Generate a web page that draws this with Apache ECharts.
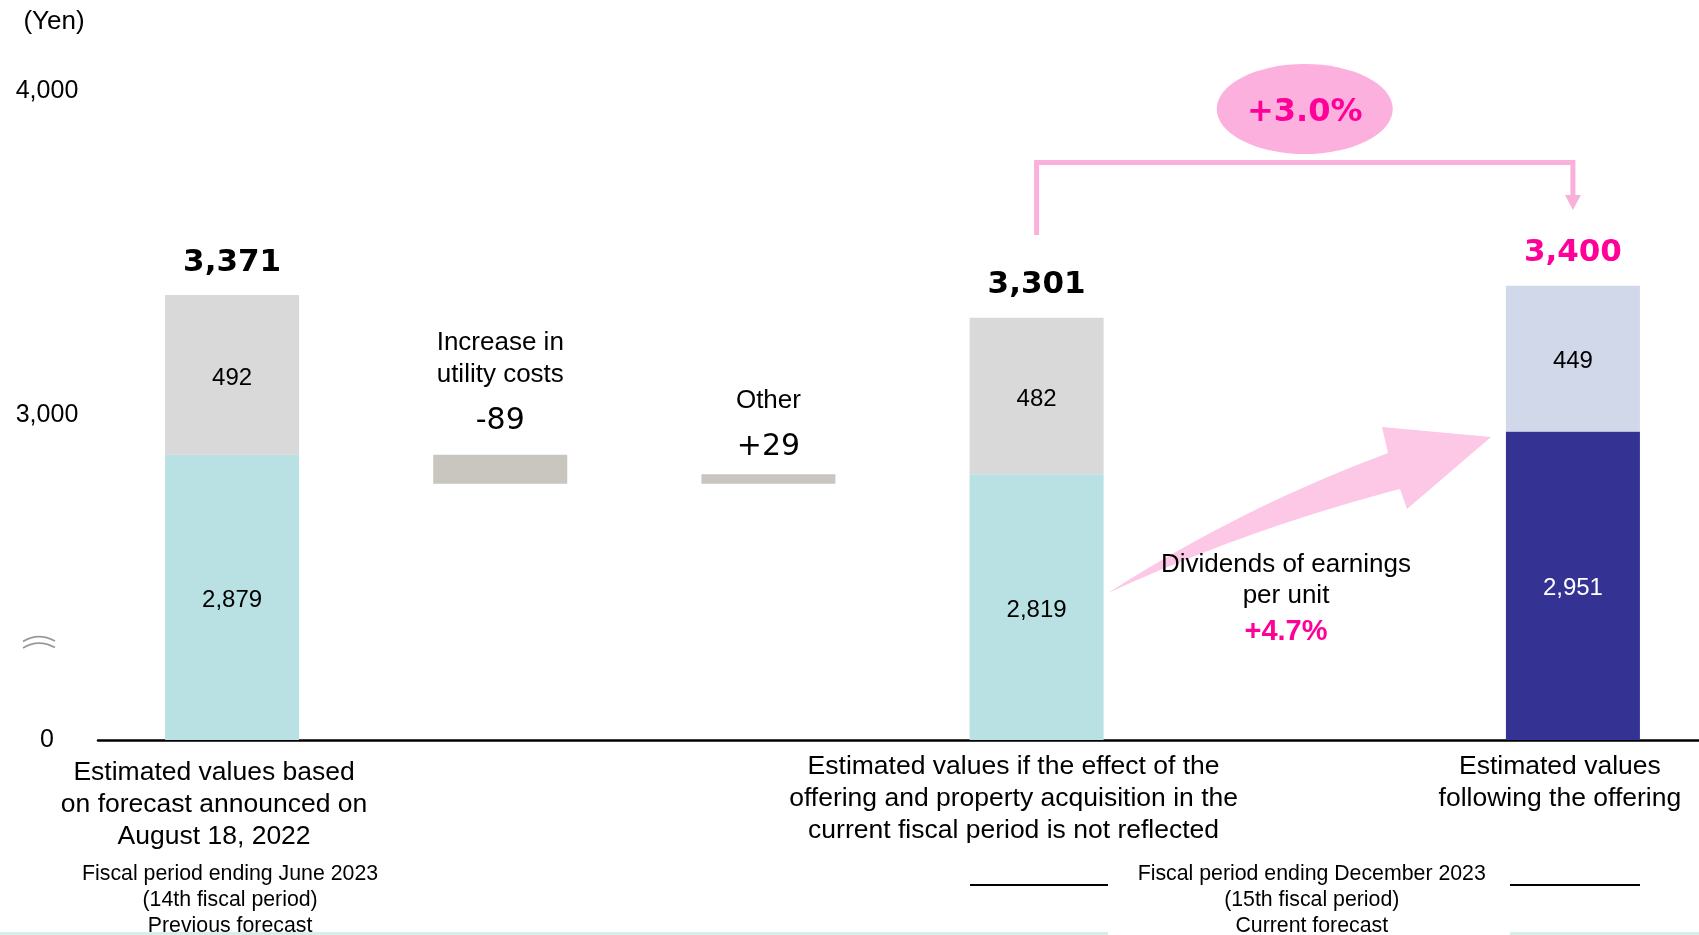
<!DOCTYPE html>
<html><head><meta charset="utf-8">
<script src="https://cdn.jsdelivr.net/npm/echarts@6/dist/echarts.min.js"></script>
<style>html,body{margin:0;padding:0;background:#fff}#c{width:1699px;height:935px}</style>
</head><body><div id="c"></div>
<script>
// ---- data ----
const categories = ['Previous forecast', 'Increase in utility costs', 'Other', 'Not reflected', 'Gap', 'Following the offering'];
const axisTexts = [
  'Estimated values based\non forecast announced on\nAugust 18, 2022',
  '', '',
  'Estimated values if the effect of the\noffering and property acquisition in the\ncurrent fiscal period is not reflected',
  '',
  'Estimated values\nfollowing the offering'
];
const lowerValues = [2879, null, null, 2819, null, 2951];
const upperValues = [492, null, null, 482, null, 449];
const changes = [null, -89, 29, null, null, null];
const changeNames = [[], ['Increase in', 'utility costs'], ['Other'], [], [], []];
const yTicks = [2000, 3000, 4000];          // axis shown with a break: bottom tick stands for 0
const yTickLabels = ['0', '3,000', '4,000'];
const totalColors = ['#000000', null, null, '#000000', null, '#ff0099'];

// ---- derived ----
const totals = lowerValues.map((v, i) => v == null ? null : v + upperValues[i]);
let running = lowerValues[0];
const floatBase = changes.map(c => {
  if (c == null) return null;
  const b = c < 0 ? running + c : running;
  running += c;
  return b;
});
const floatHeight = changes.map(c => c == null ? null : Math.abs(c));
const fmt = v => v.toLocaleString('en-US');

const ARIAL = 'Liberation Sans';
const VERD = 'DejaVu Sans';

const lowerColors = ['#b9e0e2', null, null, '#b9e0e2', null, '#343394'];
const upperColors = ['#d9d9d9', null, null, '#d9d9d9', null, '#d1d8ea'];
const lowerLabelColors = ['#000', null, null, '#000', null, '#fff'];
const axisPad = [[6, 36, 0, 0], [0,0,0,0], [0,0,0,0], [0, 46, 0, 0], [0,0,0,0], [0, 26, 0, 0]];

const chart = echarts.init(document.getElementById('c'), null, {renderer: 'canvas'});
const option = {
  animation: false,
  backgroundColor: '#fff',
  grid: {left: 98, width: 1609, top: 91, bottom: 195, containLabel: false, outerBoundsMode: 'none'},
  xAxis: {
    type: 'category',
    data: categories.map((c, i) => ({value: c, textStyle: {padding: axisPad[i]}})),
    axisLine: {lineStyle: {color: '#000', width: 2.5}},
    axisTick: {show: false},
    axisLabel: {
      interval: 0, margin: 11, fontSize: 26.5, lineHeight: 32, color: '#000', fontFamily: ARIAL,
      hideOverlap: false,
      formatter: (v, i) => axisTexts[i]
    }
  },
  yAxis: {
    type: 'value', min: 2000, max: 4000, interval: 1000,
    splitLine: {show: false}, axisLine: {show: false}, axisTick: {show: false},
    axisLabel: {
      fontSize: 25, color: '#000', fontFamily: ARIAL, align: 'center', margin: 51,
      formatter: v => yTickLabels[yTicks.indexOf(v)]
    }
  },
  series: [
    {
      type: 'bar', stack: 'a', barWidth: 134,
      data: lowerValues.map((v, i) => v == null ? null : {value: v, itemStyle: {color: lowerColors[i]}, label: {color: lowerLabelColors[i]}}),
      label: {show: true, position: 'inside', offset: [0, 3], fontSize: 24, fontFamily: ARIAL, formatter: p => fmt(p.value)}
    },
    {
      type: 'bar', stack: 'a', barWidth: 134,
      data: upperValues.map((v, i) => v == null ? null : {value: v, itemStyle: {color: upperColors[i]}}),
      label: {show: true, position: 'inside', offset: [0, 3], fontSize: 24, fontFamily: ARIAL, color: '#000', formatter: p => fmt(p.value)}
    },
    {
      type: 'bar', stack: 'a', barWidth: 134,
      itemStyle: {color: 'rgba(0,0,0,0)'},
      data: floatBase
    },
    {
      type: 'bar', stack: 'a', barWidth: 134,
      itemStyle: {color: '#c9c6bf'},
      data: floatHeight.map((h, i) => h == null ? null : {value: h, label: {distance: changes[i] < 0 ? 4 : -3}}),
      label: {
        show: true, position: 'top',
        formatter: p => {
          const c = changes[p.dataIndex];
          const names = changeNames[p.dataIndex].map(n => '{n|' + n + '}').join('\n');
          return names + '\n{v|' + (c < 0 ? '-' : '+') + Math.abs(c) + '}';
        },
        rich: {
          n: {fontSize: 26, lineHeight: 32, fontFamily: ARIAL, color: '#000'},
          v: {fontSize: 30, lineHeight: 60, fontFamily: VERD, color: '#000'}
        }
      }
    },
    {
      type: 'scatter', symbolSize: 0,
      itemStyle: {opacity: 1},
      data: totals.map((t, i) => t == null ? null : {value: [i, t], label: {color: totalColors[i]}}).filter(d => d),
      label: {show: true, position: 'top', distance: 17, fontSize: 31, fontWeight: 'bold', fontFamily: VERD,
        color: '#000', textBorderWidth: 0, formatter: p => fmt(p.value[1])}
    }
  ]
};
chart.setOption(option);

const px = (i, v) => chart.convertToPixel({gridIndex: 0}, [i, v]);
const x1 = px(0, 3000)[0], x4 = px(3, 3000)[0], x5 = px(4, 3000)[0], x6 = px(5, 3000)[0];
const pinkLine = '#fbb0dc';

// curved arrow outline (decoration)
function quad(p0, c, p1, n) {
  const pts = [];
  for (let k = 0; k <= n; k++) {
    const t = k / n, u = 1 - t;
    pts.push([u*u*p0[0] + 2*u*t*c[0] + t*t*p1[0], u*u*p0[1] + 2*u*t*c[1] + t*t*p1[1]]);
  }
  return pts;
}
const tail = [1108, 593];
const upper = quad(tail, [1240, 508], [1388, 453], 24);
const lower = quad([1400, 489], [1250, 528], tail, 24);
const arrowPts = upper.concat([[1382, 427], [1491, 437], [1407, 509]]).concat(lower);

chart.setOption({
  graphic: [
    {type: 'line', shape: {x1: 0, y1: 933.5, x2: 1108, y2: 933.5}, style: {stroke: '#d7efe9', lineWidth: 3}},
    {type: 'line', shape: {x1: 1510, y1: 933.5, x2: 1699, y2: 933.5}, style: {stroke: '#d7efe9', lineWidth: 3}},
    {type: 'text', x: 54, y: 22, style: {text: '(Yen)', fontSize: 26, fontFamily: ARIAL, fill: '#000', align: 'center', verticalAlign: 'middle'}},
    // axis break mark
    {type: 'bezierCurve', shape: {x1: 23, y1: 641.5, cpx1: 38, cpy1: 632, x2: 55, y2: 641}, style: {stroke: '#999', lineWidth: 1.5, fill: null}},
    {type: 'bezierCurve', shape: {x1: 23, y1: 648, cpx1: 38, cpy1: 638.5, x2: 55, y2: 647.5}, style: {stroke: '#999', lineWidth: 1.5, fill: null}},
    // bracket
    {type: 'polyline', shape: {points: [[x4, 235], [x4, 162.5], [x6, 162.5], [x6, 197]]}, style: {stroke: pinkLine, lineWidth: 5, fill: null}},
    {type: 'polygon', shape: {points: [[x6 - 8, 195], [x6 + 8, 195], [x6, 210]]}, style: {fill: pinkLine}},
    {type: 'circle', x: x5, y: 109, scaleX: 88 / 45, scaleY: 1, shape: {cx: 0, cy: 0, r: 45}, style: {fill: '#fcb0dd'}},
    {type: 'text', x: x5, y: 113, style: {text: '+3.0%', fontSize: 32, fontWeight: 'bold', fontFamily: VERD, fill: '#ff0099', align: 'center', verticalAlign: 'middle'}},
    // big arrow
    {type: 'polygon', shape: {points: arrowPts}, style: {fill: '#fcc8e6'}},
    {type: 'text', x: 1286, y: 580, style: {text: 'Dividends of earnings\nper unit', fontSize: 26, lineHeight: 31, fontFamily: ARIAL, fill: '#000', align: 'center', verticalAlign: 'middle'}},
    {type: 'text', x: 1286, y: 632, style: {text: '+4.7%', fontSize: 29, fontWeight: 'bold', fontFamily: ARIAL, fill: '#ff0099', align: 'center', verticalAlign: 'middle'}},
    // fiscal period captions
    {type: 'text', x: x1 - 2, y: 900, style: {text: 'Fiscal period ending June 2023\n(14th fiscal period)\nPrevious forecast', fontSize: 21.3, lineHeight: 26, fontFamily: ARIAL, fill: '#000', align: 'center', verticalAlign: 'middle'}},
    {type: 'text', x: x5 + 7, y: 900, style: {text: 'Fiscal period ending December 2023\n(15th fiscal period)\nCurrent forecast', fontSize: 21.3, lineHeight: 26, fontFamily: ARIAL, fill: '#000', align: 'center', verticalAlign: 'middle'}},
    {type: 'line', shape: {x1: 970, y1: 885, x2: 1108, y2: 885}, style: {stroke: '#000', lineWidth: 2}},
    {type: 'line', shape: {x1: 1510, y1: 885, x2: 1640, y2: 885}, style: {stroke: '#000', lineWidth: 2}}
  ]
});
</script></body></html>
